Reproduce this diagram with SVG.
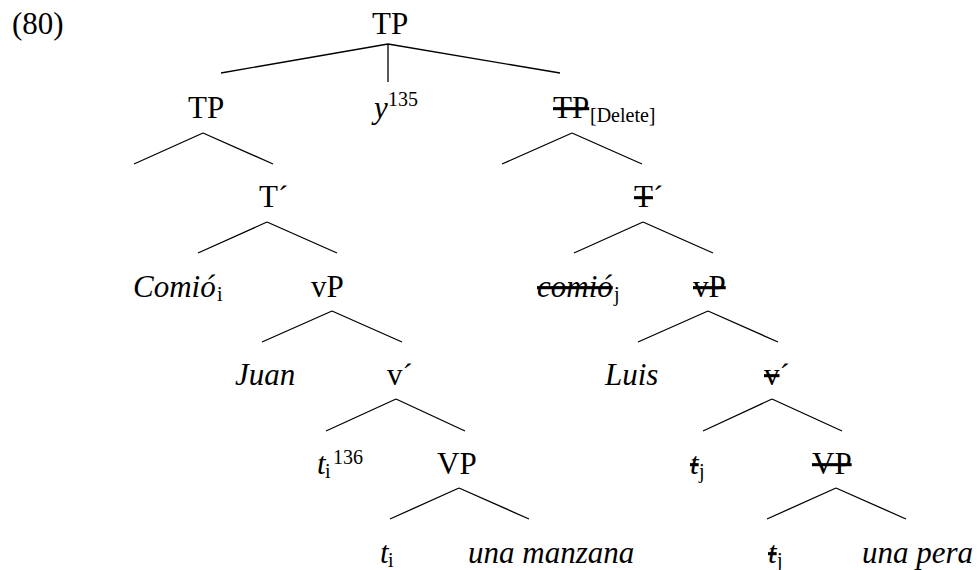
<svg xmlns="http://www.w3.org/2000/svg" width="977" height="570" viewBox="0 0 977 570">
<style>
text{font-family:"Liberation Serif","Times New Roman",serif;font-size:31px;fill:#000}
.it{font-style:italic}
.sm{font-size:20px;font-style:normal}
.del{text-decoration:line-through}
#edges path{stroke:#000;stroke-width:1.3;fill:none}
</style>
<rect width="977" height="570" fill="#fff"/>
<text x="12" y="34">(80)</text>
<g id="edges">
<path d="M388,44 L221,73 M388,44 L388,82 M388,44 L560,73"/>
<path d="M203,133 L134,164 M203,133 L273,164"/>
<path d="M572,133 L502,164 M572,133 L642,164"/>
<path d="M267,222 L198,253 M267,222 L337,253"/>
<path d="M643,222 L574,253 M643,222 L713,253"/>
<path d="M332,311 L262,342 M332,311 L402,342"/>
<path d="M708,311 L638,342 M708,311 L778,342"/>
<path d="M396,399 L326,431 M396,399 L465,431"/>
<path d="M772,399 L703,431 M772,399 L842,431"/>
<path d="M459,488 L390,519 M459,488 L529,519"/>
<path d="M836,488 L767,519 M836,488 L906,519"/>
</g>
<g id="n-tp-root"><text x="372" y="34">TP</text></g>
<g id="n-tp-left"><text x="188" y="118">TP</text></g>
<g id="n-y"><text x="374" y="118" class="it">y</text><text x="388" y="106" class="sm">135</text></g>
<g id="n-tp-del"><text x="553" y="118"><tspan class="del">TP</tspan></text><text x="590" y="122" class="sm">[Delete]</text></g>
<g id="n-tbar-left"><text x="259" y="207">T´</text></g>
<g id="n-tbar-right"><text x="634" y="207"><tspan class="del">T</tspan>´</text></g>
<g id="n-comio-i"><text x="133" y="297" class="it">Comió</text><text x="217" y="301" class="sm">i</text></g>
<g id="n-vp-left"><text x="311" y="297">vP</text></g>
<g id="n-comio-j"><text x="537" y="297" class="it"><tspan class="del">comió</tspan></text><text x="614" y="301" class="sm">j</text></g>
<g id="n-vp-right"><text x="693" y="297"><tspan class="del">vP</tspan></text></g>
<g id="n-juan"><text x="235" y="385" class="it">Juan</text></g>
<g id="n-vbar-left"><text x="387" y="385">v´</text></g>
<g id="n-luis"><text x="605" y="385" class="it">Luis</text></g>
<g id="n-vbar-right"><text x="764" y="385"><tspan class="del">v</tspan>´</text></g>
<g id="n-ti-136"><text x="317" y="474" class="it">t</text><text x="325" y="478" class="sm">i</text><text x="333" y="464" class="sm">136</text></g>
<g id="n-VP-left"><text x="437" y="474">VP</text></g>
<g id="n-tj-1"><text x="690" y="474" class="it"><tspan class="del">t</tspan></text><text x="699" y="478" class="sm">j</text></g>
<g id="n-VP-right"><text x="812" y="474"><tspan class="del">VP</tspan></text></g>
<g id="n-ti"><text x="380" y="563" class="it">t</text><text x="388" y="567" class="sm">i</text></g>
<g id="n-manzana"><text x="468" y="563" class="it">una manzana</text></g>
<g id="n-tj-2"><text x="768" y="563" class="it"><tspan class="del">t</tspan></text><text x="777" y="567" class="sm">j</text></g>
<g id="n-pera"><text x="862" y="563" class="it">una pera</text></g>
</svg>
